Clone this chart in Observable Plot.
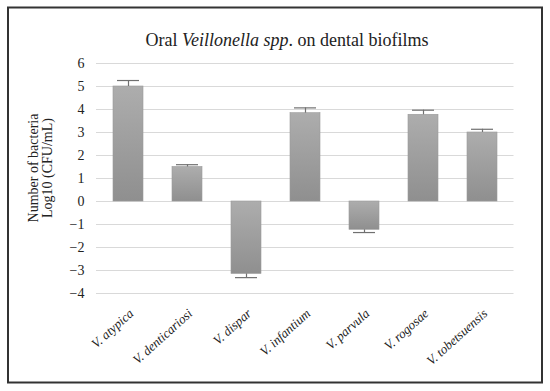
<!DOCTYPE html>
<html>
<head>
<meta charset="utf-8">
<script src="https://cdn.jsdelivr.net/npm/d3@7"></script>
<script src="https://cdn.jsdelivr.net/npm/@observablehq/plot@0.6"></script>
<style>
  html, body { margin: 0; padding: 0; background: #fff; }
  #chart svg { display: block; font-family: "Liberation Serif", serif; }
</style>
</head>
<body>
<div id="chart"></div>
<script>
const categories = ["V. atypica", "V. denticariosi", "V. dispar", "V. infantium", "V. parvula", "V. rogosae", "V. tobetsuensis"];
const values = [5.0, 1.5, -3.15, 3.84, -1.23, 3.77, 3.0];
const errors = [0.26, 0.1, 0.16, 0.23, 0.12, 0.2, 0.14];
const yTicks = [-4, -3, -2, -1, 0, 1, 2, 3, 4, 5, 6];
const titleParts = [["Oral ", "normal"], ["Veillonella spp", "italic"], [". on dental biofilms", "normal"]];
const yLabelLines = ["Number of bacteria", "Log10 (CFU/mL)"];

const data = categories.map((c, i) => ({
  species: c,
  value: values[i],
  end: values[i] + Math.sign(values[i]) * errors[i]
}));

const plot = Plot.plot({
  width: 550,
  height: 391,
  marginLeft: 96,
  marginRight: 36.5,
  marginTop: 63,
  marginBottom: 98,
  style: { fontFamily: "Liberation Serif, serif", background: "#fff", overflow: "visible" },
  x: { domain: categories, paddingInner: 0.5, paddingOuter: 0.25, label: null, axis: null },
  y: { domain: [-4, 6], label: null },
  marks: [
    Plot.gridY(yTicks, { stroke: "#d9d9d9", strokeOpacity: 1 }),
    Plot.barY(data, { x: "species", y: "value", fill: "url(#barGrad)", stroke: "#9a9a9a", strokeWidth: 0.6 }),
    Plot.ruleX(data, { x: "species", y1: "value", y2: "end", stroke: "#707070", strokeWidth: 1.2 }),
    Plot.tickY(data, { x: "species", y: "end", stroke: "#707070", strokeWidth: 1.2, insetLeft: 26, insetRight: 26 }),
    Plot.axisY({ ticks: yTicks, tickSize: 0, tickPadding: 12, fontSize: 14, fill: "#222", label: null }),
    Plot.text(categories, {
      x: d => d, frameAnchor: "bottom", rotate: -42, textAnchor: "end",
      lineAnchor: "middle", dy: 18, dx: 3, fontSize: 13, fontStyle: "italic", fill: "#222"
    })
  ]
});

const svg = d3.select(plot);
const defs = svg.insert("defs", ":first-child");
const grad = defs.append("linearGradient").attr("id", "barGrad").attr("x1", 0).attr("y1", 0).attr("x2", 0).attr("y2", 1);
grad.append("stop").attr("offset", "0%").attr("stop-color", "#adadad");
grad.append("stop").attr("offset", "100%").attr("stop-color", "#8f8f8f");

// frame border
svg.append("rect").attr("x", 8).attr("y", 7.5).attr("width", 534).attr("height", 375)
  .attr("fill", "none").attr("stroke", "#333").attr("stroke-width", 2);

// title
const t = svg.append("text").attr("x", 287).attr("y", 46).attr("text-anchor", "middle")
  .attr("font-size", 18).attr("fill", "#222");
titleParts.forEach(([s, st]) => t.append("tspan").attr("font-style", st).text(s));

// y label
yLabelLines.forEach((s, i) => {
  svg.append("text").attr("transform", `translate(${38 + i * 14},168) rotate(-90)`)
    .attr("text-anchor", "middle").attr("font-size", 14).attr("fill", "#222").text(s);
});

document.getElementById("chart").appendChild(plot);
</script>
</body>
</html>
